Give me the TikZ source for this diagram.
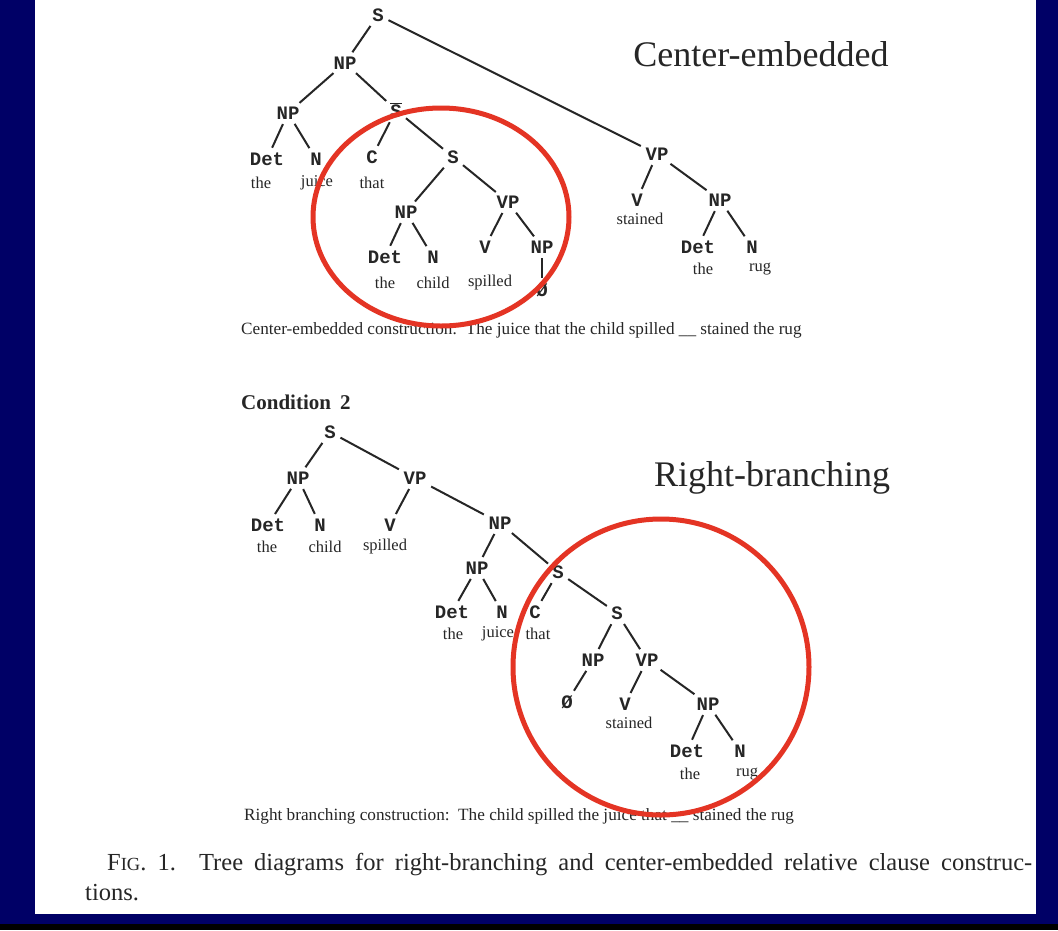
\documentclass[tikz,border=0pt]{standalone}
\usepackage{fontspec}
\setmainfont{Liberation Serif}
\setmonofont{Liberation Mono}
\definecolor{navy}{RGB}{0,0,102}
\definecolor{ringred}{RGB}{228,52,36}
\colorlet{ink}{black!85}
\tikzset{
    cat/.style={font=\fontsize{19}{19}\selectfont\ttfamily\bfseries, text=ink, inner sep=1pt},
    word/.style={font=\fontsize{16.5}{16.5}\selectfont, text=ink, inner sep=0pt},
    branch/.style={draw=ink, line width=2pt, shorten <=4pt, shorten >=4pt},
    ring/.style={draw=ringred, line width=5pt},
    heading/.style={font=\fontsize{36}{36}\selectfont, text=ink},
    note/.style={font=\fontsize{17.2}{17.2}\selectfont, text=ink, anchor=west, inner sep=0pt},
}
\begin{document}
\begin{tikzpicture}[x=1pt,y=-1pt]
\useasboundingbox (0,0) rectangle (1058,930);
\fill[navy] (0,0) rectangle (1058,930);
\fill[black] (0,924) rectangle (1058,930);
\fill[white] (35,0) rectangle (1036,914);

% center-embedded tree
\node[cat] (aS) at (378,15) {S};
\node[cat] (aNP) at (345,63) {NP};
\node[cat] (aNPa) at (288,113) {NP};
\node[cat] (aSbar) at (396,110) {$\overline{\mbox{S}}$};
\node[cat] (aDet) at (267,159) {Det};
\node[cat] (aN) at (316,159) {N};
\node[cat] (aC) at (372,157) {C};
\node[cat] (aS2) at (453,157) {S};
\node[word] (aThe) at (261,183) {the};
\node[word] (aJuice) at (317,183) {juice};
\node[word] (aThat) at (372,183) {that};
\node[cat] (aNP2) at (406,212) {NP};
\node[cat] (aVP2) at (508,202) {VP};
\node[cat] (aDet2) at (385,257) {Det};
\node[cat] (aN2) at (433,257) {N};
\node[cat] (aV2) at (485,247) {V};
\node[cat] (aNP3) at (542,247) {NP};
\node[word] (aThe2) at (385,283) {the};
\node[word] (aChild) at (433,283) {child};
\node[word] (aSpilled) at (490,283) {spilled};
\node[cat] (aGap) at (542,290) {Ø};
\node[cat] (aVP) at (657,154) {VP};
\node[cat] (aV) at (637,200) {V};
\node[word] (aStained) at (640,219) {stained};
\node[cat] (aNP4) at (720,200) {NP};
\node[cat] (aDet4) at (698,247) {Det};
\node[cat] (aN4) at (752,247) {N};
\node[word] (aThe4) at (703,269) {the};
\node[word] (aRug) at (760,269) {rug};

\foreach \a/\b in {aS/aNP, aS/aVP, aNP/aNPa, aNP/aSbar, aNPa/aDet, aNPa/aN,
    aSbar/aC, aSbar/aS2, aS2/aNP2, aS2/aVP2, aNP2/aDet2, aNP2/aN2,
    aVP2/aV2, aVP2/aNP3, aNP3/aGap, aVP/aV, aVP/aNP4, aNP4/aDet4, aNP4/aN4}
    \draw[branch] (\a) -- (\b);

\node[heading] (headA) at (761,54) {Center-embedded};
\node[note] (captA) at (241,330) {Center-embedded construction:\ \ The juice that the child spilled \_\_ stained the rug};

% right-branching tree
\node[note, font=\fontsize{21}{21}\selectfont\bfseries] (cond) at (241,402) {Condition\hspace{9pt}2};

\node[cat] (bS) at (330,432) {S};
\node[cat] (bNP) at (298,478) {NP};
\node[cat] (bVP) at (415,478) {VP};
\node[cat] (bDet) at (268,525) {Det};
\node[cat] (bN) at (320,525) {N};
\node[cat] (bV) at (390,525) {V};
\node[cat] (bNP2) at (500,523) {NP};
\node[word] (bThe) at (267,547) {the};
\node[word] (bChild) at (325,547) {child};
\node[word] (bSpilled) at (385,547) {spilled};
\node[cat] (bNP3) at (477,568) {NP};
\node[cat] (bSbar) at (558,572) {S};
\node[cat] (bDet3) at (452,612) {Det};
\node[cat] (bN3) at (502,612) {N};
\node[cat] (bC) at (535,612) {C};
\node[cat] (bS2) at (617,613) {S};
\node[word] (bThe3) at (453,634) {the};
\node[word] (bJuice) at (498,634) {juice};
\node[word] (bThat) at (538,634) {that};
\node[cat] (bNP4) at (593,660) {NP};
\node[cat] (bVP4) at (647,660) {VP};
\node[cat] (bGap) at (567,702) {Ø};
\node[cat] (bV4) at (625,704) {V};
\node[word] (bStained) at (629,723) {stained};
\node[cat] (bNP5) at (708,704) {NP};
\node[cat] (bDet5) at (687,751) {Det};
\node[cat] (bN5) at (740,751) {N};
\node[word] (bThe5) at (690,774) {the};
\node[word] (bRug) at (747,774) {rug};

\foreach \a/\b in {bS/bNP, bS/bVP, bNP/bDet, bNP/bN, bVP/bV, bVP/bNP2,
    bNP2/bNP3, bNP2/bSbar, bNP3/bDet3, bNP3/bN3, bSbar/bC, bSbar/bS2,
    bS2/bNP4, bS2/bVP4, bNP4/bGap, bVP4/bV4, bVP4/bNP5, bNP5/bDet5, bNP5/bN5}
    \draw[branch] (\a) -- (\b);

\node[heading] (headB) at (772,478) {Right-branching};
\node[note] (captB) at (244,816) {Right branching construction:\ \ The child spilled the juice that \_\_ stained the rug};

% red rings
\draw[ring] (441,217) ellipse [x radius=128, y radius=109];
\draw[ring] (661,667) circle (148);

% figure caption
\node[anchor=base west, inner sep=0pt, text=ink, font=\fontsize{24.5}{24.5}\selectfont] (fig) at (107,870)
  {\makebox[925pt][s]{F{\fontsize{18.5}{18.5}\selectfont IG}. 1. Tree diagrams for right-branching and center-embedded relative clause construc-}};
\node[anchor=base west, inner sep=0pt, text=ink, font=\fontsize{24.5}{24.5}\selectfont] (fig2) at (85,900) {tions.};
\end{tikzpicture}
\end{document}
